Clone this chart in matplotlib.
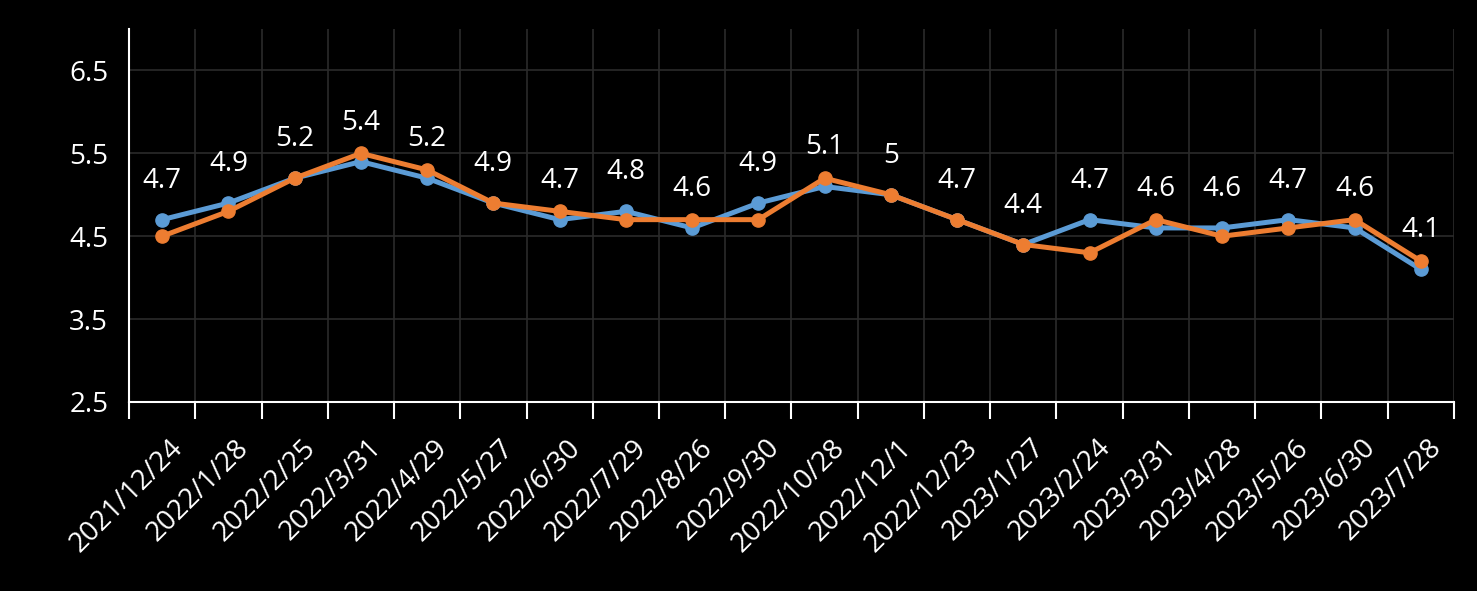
import matplotlib
matplotlib.use("Agg")
import matplotlib.pyplot as plt
import matplotlib.transforms as mtransforms
import numpy as np

# data
dates = ["2021/12/24", "2022/1/28", "2022/2/25", "2022/3/31", "2022/4/29",
         "2022/5/27", "2022/6/30", "2022/7/29", "2022/8/26", "2022/9/30",
         "2022/10/28", "2022/12/1", "2022/12/23", "2023/1/27", "2023/2/24",
         "2023/3/31", "2023/4/28", "2023/5/26", "2023/6/30", "2023/7/28"]
blue_vals = [4.7, 4.9, 5.2, 5.4, 5.2, 4.9, 4.7, 4.8, 4.6, 4.9,
             5.1, 5.0, 4.7, 4.4, 4.7, 4.6, 4.6, 4.7, 4.6, 4.1]
orange_vals = [4.5, 4.8, 5.2, 5.5, 5.3, 4.9, 4.8, 4.7, 4.7, 4.7,
               5.2, 5.0, 4.7, 4.4, 4.3, 4.7, 4.5, 4.6, 4.7, 4.2]
y_ticks = [2.5, 3.5, 4.5, 5.5, 6.5]

BLUE = "#5B9BD5"
ORANGE = "#ED7D31"
GRID = "#2b2b2b"

plt.rcParams['font.family'] = ['Open Sans', 'DejaVu Sans']

fig = plt.figure(figsize=(14.77, 5.91), dpi=100, facecolor="black")
ax = fig.add_axes([129 / 1477, 1 - 402 / 591, (1454 - 129) / 1477, (402 - 29) / 591])
ax.set_facecolor("black")

x = np.arange(len(dates))
ax.plot(x, blue_vals, color=BLUE, lw=3.6, marker="o", ms=9.5, zorder=3)
ax.plot(x, orange_vals, color=ORANGE, lw=3.6, marker="o", ms=9.5, zorder=4)

# value labels (blue series)
for xi, v in zip(x, blue_vals):
    ax.annotate(f"{v:g}", (xi, v), xytext=(0, 18), textcoords="offset points",
                ha="center", va="bottom", color="white", fontsize=20, zorder=5)

ax.set_xlim(-0.5, len(dates) - 0.5)
ax.set_ylim(2.5, 7.0)
ax.set_yticks(y_ticks)
ax.set_yticklabels([f"{t:g}" for t in y_ticks])

# major x ticks at category boundaries, labels on minor ticks at centres
ax.set_xticks(np.arange(len(dates) + 1) - 0.5)
ax.set_xticklabels([])
ax.set_xticks(x, minor=True)
ax.set_xticklabels(dates, minor=True, rotation=45, ha="right", va="center",
                   rotation_mode="anchor", color="white", fontsize=20)
ax.tick_params(axis="x", which="major", direction="out", length=12, width=1.5,
               color="white")
ax.tick_params(axis="x", which="minor", length=0, pad=30)
ax.tick_params(axis="y", length=0, pad=15, labelcolor="white", labelsize=20)

shift = mtransforms.ScaledTranslation(12 / 72, 0, fig.dpi_scale_trans)
for lbl in ax.get_xticklabels(minor=True):
    lbl.set_transform(lbl.get_transform() + shift)

ax.grid(True, which="major", color=GRID, lw=1.2)
ax.set_axisbelow(True)

for side in ["top", "right"]:
    ax.spines[side].set_visible(False)
for side in ["left", "bottom"]:
    ax.spines[side].set_color("white")
    ax.spines[side].set_linewidth(1.5)

fig.savefig("out.png", dpi=100, facecolor="black")
